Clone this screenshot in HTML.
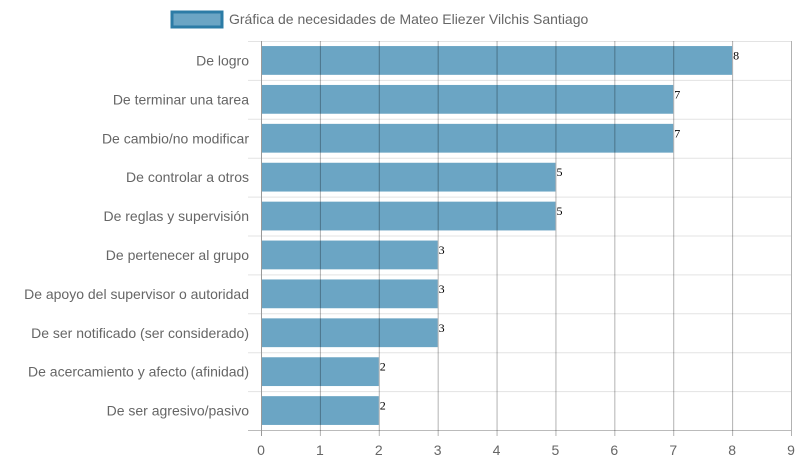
<!DOCTYPE html>
<html><head><meta charset="utf-8"><style>
html,body{margin:0;padding:0;background:#fff;}
svg{display:block;font-family:"Liberation Sans",sans-serif;}
</style></head><body>
<svg id="chart" width="798" height="465">
<g id="legend">
<rect x="172" y="12" width="50" height="15" fill="#6ba5c4" stroke="#2c7ca6" stroke-width="3"/>
<text x="229" y="24" font-size="14" fill="#666">Gráfica de necesidades de Mateo Eliezer Vilchis Santiago</text>
</g>
<g id="plot"></g>
</svg>
<script>
const categories=["De logro","De terminar una tarea","De cambio/no modificar","De controlar a otros","De reglas y supervisión","De pertenecer al grupo","De apoyo del supervisor o autoridad","De ser notificado (ser considerado)","De acercamiento y afecto (afinidad)","De ser agresivo/pasivo"];
const values=[8,7,7,5,5,3,3,3,2,2];
const xTicks=[0,1,2,3,4,5,6,7,8,9];
const NS="http://www.w3.org/2000/svg";
const L=261,R=791,T=41,B=430,xMax=9;
const x=v=>L+(R-L)*v/xMax;
const band=(B-T)/categories.length;
const y=i=>T+band*i;
const g=document.getElementById('plot');
function mk(t,a){const e=document.createElementNS(NS,t);for(const k in a)e.setAttribute(k,a[k]);g.appendChild(e);return e;}
// horizontal grid
for(let i=0;i<=categories.length;i++){
 const l=mk('line',{x1:248,x2:R,y1:y(i)+0.5,y2:y(i)+0.5,stroke:i==categories.length?'#bbb':'#e3e3e3'});
 
 
}
// bars
categories.forEach((c,i)=>{
 const h=band*0.74, yy=y(i)+(band-h)/2;
 const r=mk('rect',{x:x(0),y:yy,width:x(values[i])-x(0),height:h,fill:'#6ba5c4'});
 
 
 const vl=mk('text',{x:x(values[i])+1,y:yy+h/2-1,'font-size':12,fill:'#000','font-family':'Liberation Serif, serif'});
 vl.textContent=values[i];
 
 
 const cl=mk('text',{x:249,y:y(i)+band/2+5,'font-size':14,fill:'#666','text-anchor':'end'});
 cl.textContent=c;
 
 
});
// vertical grid
xTicks.forEach(t=>{
 const l=mk('line',{x1:x(t)+0.5,x2:x(t)+0.5,y1:T,y2:B+6,stroke:t==0?'#999':'rgba(0,0,0,0.3)'});
 
 
 const tl=mk('text',{x:x(t),y:455,'font-size':14,fill:'#666','text-anchor':'middle'});
 tl.textContent=t;
 
 
});
</script>
</body></html>
